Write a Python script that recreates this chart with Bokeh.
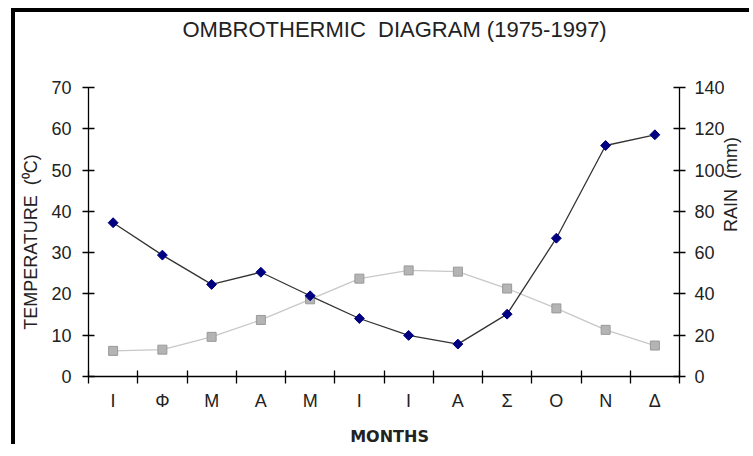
import math
from bokeh.plotting import figure
from bokeh.models import Range1d, LinearAxis, FixedTicker
from bokeh.embed import file_html
from bokeh.resources import INLINE

months = ["Ι", "Φ", "Μ", "Α", "Μ", "Ι", "Ι", "Α", "Σ", "Ο", "Ν", "Δ"]
temperature = [6.2, 6.5, 9.6, 13.7, 18.7, 23.7, 25.7, 25.4, 21.3, 16.5, 11.3, 7.5]
rain = [74.5, 58.8, 44.6, 50.5, 39.1, 28.1, 19.9, 15.7, 30.2, 67.0, 111.9, 117.1]
temp_ticks = [0, 10, 20, 30, 40, 50, 60, 70]
rain_ticks = [0, 20, 40, 60, 80, 100, 120, 140]

NB = "\u00a0"
title_text = "OMBROTHERMIC" + NB + " DIAGRAM (1975-1997)"
x_title = "MONTHS"
y_title = "TEMPERATURE" + NB + " (⁰C)"
y2_title = "RAIN" + NB + " (mm)"

FONT = "Liberation Sans"
W, H = 738, 436

xs = [i + 0.5 for i in range(len(months))]

p = figure(width=W, height=H, output_backend="svg", toolbar_location=None,
           x_range=Range1d(0, 12), y_range=Range1d(0, 70),
           min_border_left=73, min_border_right=68, min_border_top=75, min_border_bottom=72)
p.styles = {"border-left": "4px solid black", "border-top": "4px solid black",
            "margin-left": "11px", "margin-top": "8px"}
p.outline_line_color = None
p.xgrid.visible = False
p.ygrid.visible = False
p.background_fill_color = "white"
p.border_fill_color = "white"

xa = p.below[0]
ya = p.left[0]


def blank_axis(**kw):
    ax = LinearAxis(ticker=FixedTicker(ticks=[], minor_ticks=[]), **kw)
    ax.axis_line_color = None
    ax.major_tick_line_color = None
    ax.minor_tick_line_color = None
    ax.major_tick_in = 0
    ax.major_tick_out = 0
    ax.major_label_text_font_size = "0px"
    return ax


# invisible spacer axis between frame and title
spacer = blank_axis()
spacer.axis_label = NB
spacer.axis_label_text_font_size = "20px"
spacer.axis_label_standoff = 19
p.add_layout(spacer, "above")

p.title.text = title_text
p.title.align = "left"
p.title.offset = 94
p.title.text_font = FONT
p.title.text_font_size = "22px"
p.title.text_font_style = "normal"
p.title.text_color = "#222222"
p.title.standoff = 4

p.extra_y_ranges = {"rain": Range1d(0, 140)}

# bottom axis
xa.ticker = FixedTicker(ticks=xs, minor_ticks=list(range(13)))
xa.major_label_overrides = {x: m for x, m in zip(xs, months)}
xa.major_tick_in = 0
xa.major_tick_out = 0
xa.minor_tick_in = 6
xa.minor_tick_out = 7
xa.minor_tick_line_color = "black"
xa.minor_tick_line_width = 1.3
xa.axis_line_color = "black"
xa.axis_line_width = 1.3
xa.major_label_text_font = FONT
xa.major_label_text_font_size = "18px"
xa.major_label_text_color = "#222222"
xa.major_label_standoff = 7
xa.axis_label = NB * 2 + x_title
xa.axis_label_text_font = "DejaVu Sans"
xa.axis_label_text_font_style = "bold"
xa.axis_label_text_font_size = "16px"
xa.axis_label_text_color = "#222222"
xa.axis_label_standoff = 13

# left axis
ya.ticker = FixedTicker(ticks=temp_ticks, minor_ticks=[])
ya.major_tick_in = 6
ya.major_tick_out = 6
ya.major_tick_line_color = "black"
ya.major_tick_line_width = 1.3
ya.axis_line_color = "black"
ya.axis_line_width = 1.3
ya.major_label_text_font = FONT
ya.major_label_text_font_size = "18px"
ya.major_label_text_color = "#222222"
ya.major_label_standoff = 11
ya.axis_label = y_title + NB * 4
ya.axis_label_text_font = FONT
ya.axis_label_text_font_style = "normal"
ya.axis_label_text_font_size = "18px"
ya.axis_label_text_color = "#222222"
ya.axis_label_standoff = 7

# right axis
ra = LinearAxis(y_range_name="rain", ticker=FixedTicker(ticks=rain_ticks, minor_ticks=[]))
ra.major_tick_in = 6
ra.major_tick_out = 6
ra.major_tick_line_color = "black"
ra.major_tick_line_width = 1.3
ra.axis_line_color = "black"
ra.axis_line_width = 1.3
ra.major_label_text_font = FONT
ra.major_label_text_font_size = "18px"
ra.major_label_text_color = "#222222"
ra.major_label_standoff = 9
p.add_layout(ra, "right")

# right axis title, carried by an invisible axis
rlab = blank_axis(y_range_name="rain", bounds=(0, 98))
rlab.axis_label = y2_title
rlab.axis_label_orientation = math.pi / 2
rlab.axis_label_text_font = FONT
rlab.axis_label_text_font_style = "normal"
rlab.axis_label_text_font_size = "18px"
rlab.axis_label_text_color = "#222222"
rlab.axis_label_standoff = 3
p.add_layout(rlab, "right")

# series
p.line(xs, temperature, line_color="#c8c8c8", line_width=1.3)
p.scatter(xs, temperature, marker="square", size=9, fill_color="#b4b4b4", line_color="#999999", line_width=1)

p.line(xs, rain, line_color="#333333", line_width=1.3, y_range_name="rain")
p.scatter(xs, rain, marker="square", angle=math.pi / 4, size=7, fill_color="#000080",
          line_color="#000080", y_range_name="rain")

open("out.html", "w").write(file_html(p, INLINE))
